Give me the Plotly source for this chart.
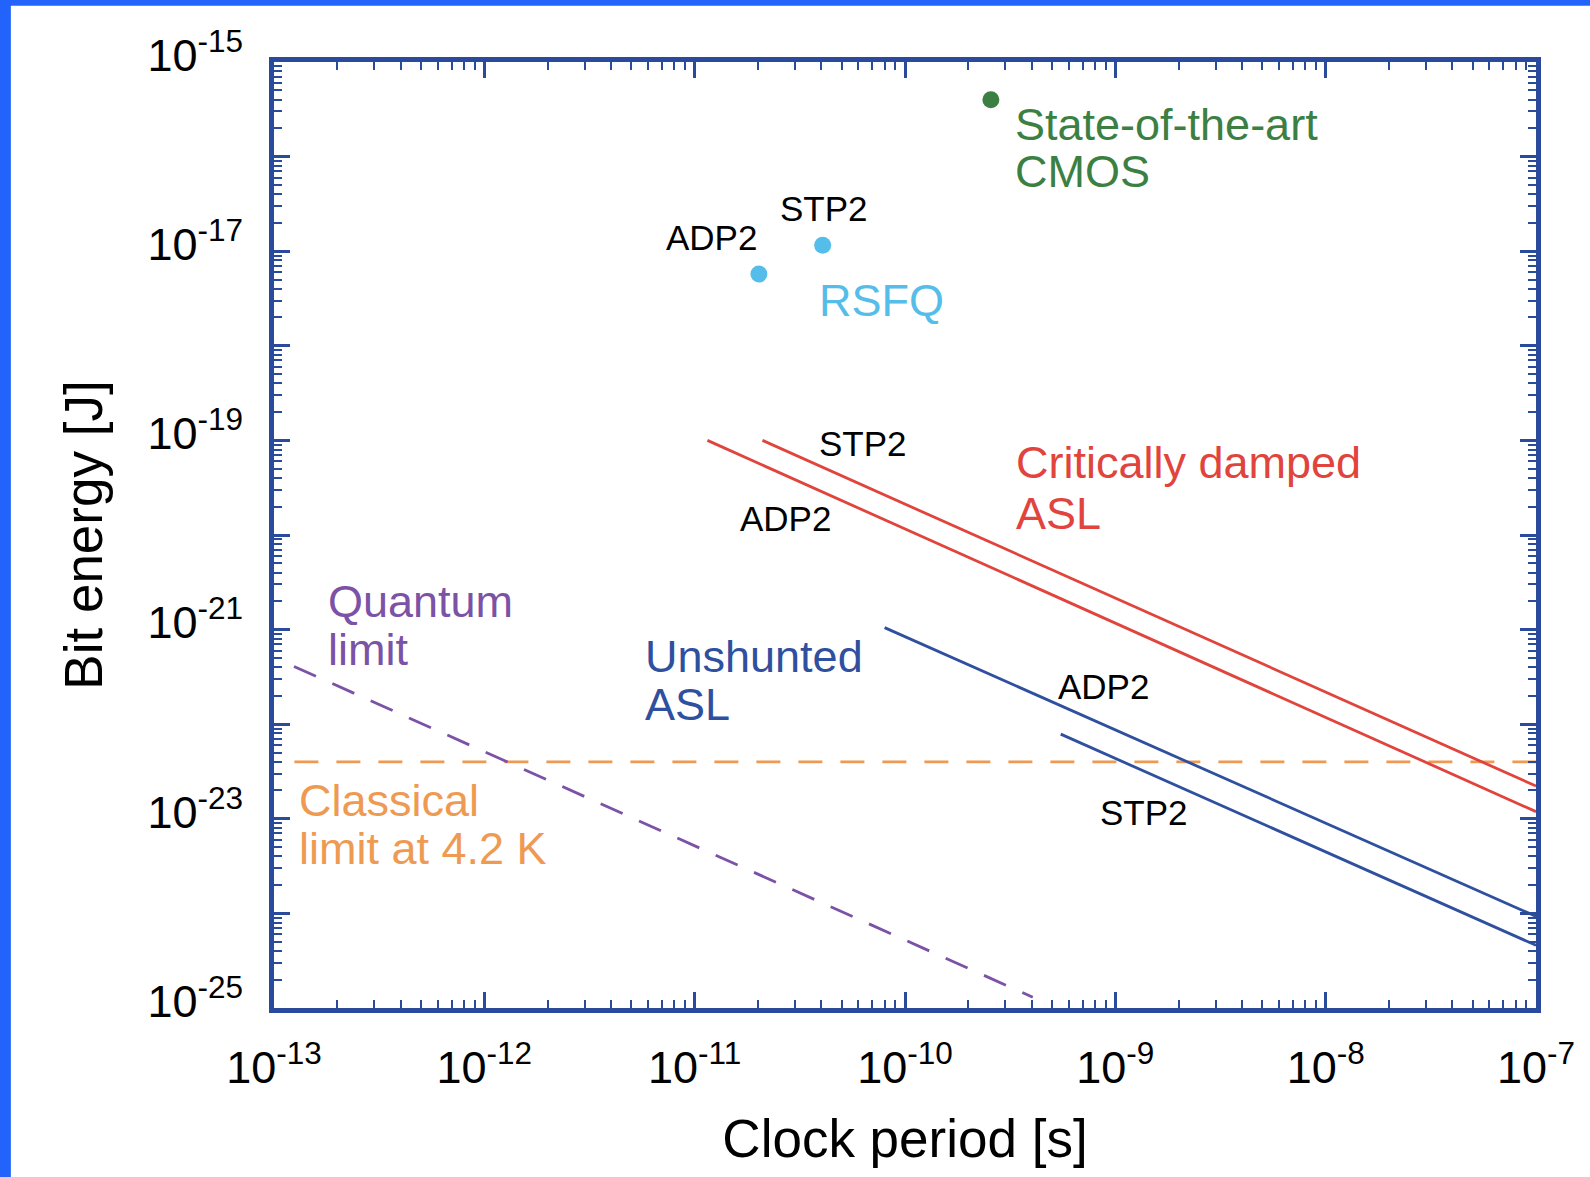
import plotly.graph_objects as go

# ---------------- data ----------------
# Critically damped ASL lines (clock period [s], bit energy [J])
cd_adp2_t = [1.15e-11, 1.0e-7]
cd_adp2_e = [1.0e-19, 1.19e-23]
cd_stp2_t = [2.1e-11, 1.0e-7]
cd_stp2_e = [1.0e-19, 2.22e-23]

# Unshunted ASL lines
un_adp2_t = [8.0e-11, 1.0e-7]
un_adp2_e = [1.05e-21, 9.3e-25]
un_stp2_t = [5.5e-10, 1.0e-7]
un_stp2_e = [7.85e-23, 4.6e-25]

# Limits
quantum_t = [1.245e-13, 4.05e-10]
quantum_e = [4.08e-22, 1.3e-25]
classical_t = [1.25e-13, 1.0e-7]
classical_e = [4.0e-23, 4.0e-23]

# Points
rsfq_names = ["ADP2", "STP2"]
rsfq_t = [2.02e-11, 4.06e-11]
rsfq_e = [5.73e-18, 1.156e-17]
cmos_t = [2.56e-10]
cmos_e = [3.98e-16]

# Axis ticks
x_exps = [-13, -12, -11, -10, -9, -8, -7]
y_exps = [-25, -24, -23, -22, -21, -20, -19, -18, -17, -16, -15]
y_label_exps = [-25, -23, -21, -19, -17, -15]

# ---------------- style ----------------
FONT = "Liberation Sans, Arial, Helvetica, sans-serif"
FRAME = "#2a4b9b"
RED = "#e0443c"
BLUE = "#2f4f9f"
ORANGE = "#ee9a52"
PURPLE = "#7b52a6"
GREEN = "#3c7f43"
LIGHTBLUE = "#55bde9"

fig = go.Figure()

def line(t, e, color, dash=None):
    fig.add_trace(go.Scatter(x=t, y=e, mode="lines",
                             line=dict(color=color, width=2.8, dash=dash),
                             showlegend=False, hoverinfo="skip"))

line(classical_t, classical_e, ORANGE, "24px,18px")
line(quantum_t, quantum_e, PURPLE, "24px,18px")
line(cd_adp2_t, cd_adp2_e, RED)
line(cd_stp2_t, cd_stp2_e, RED)
line(un_adp2_t, un_adp2_e, BLUE)
line(un_stp2_t, un_stp2_e, BLUE)

fig.add_trace(go.Scatter(x=rsfq_t, y=rsfq_e, mode="markers",
                         marker=dict(color=LIGHTBLUE, size=17),
                         showlegend=False, text=rsfq_names))
fig.add_trace(go.Scatter(x=cmos_t, y=cmos_e, mode="markers",
                         marker=dict(color=GREEN, size=17),
                         showlegend=False))

# ---------------- annotations ----------------
def label(x, y, text, color, size, anchor="left"):
    fig.add_annotation(x=x, y=y, xref="x", yref="y", text=text, showarrow=False,
                       xanchor=anchor, yanchor="middle",
                       font=dict(family=FONT, size=size, color=color))

BIG = 45
SMALL = 35
label(-9.487, -15.66, "State-of-the-art", GREEN, BIG)
label(-9.487, -16.16, "CMOS", GREEN, BIG)
label(-10.386, -16.547, "STP2", "black", SMALL, "center")
label(-10.921, -16.853, "ADP2", "black", SMALL, "center")
label(-10.112, -17.516, "RSFQ", LIGHTBLUE, BIG, "center")
label(-10.202, -19.032, "STP2", "black", SMALL, "center")
label(-10.566, -19.821, "ADP2", "black", SMALL, "center")
label(-9.482, -19.232, "Critically damped", RED, BIG)
label(-9.482, -19.768, "ASL", RED, BIG)
label(-12.754, -20.705, "Quantum", PURPLE, BIG)
label(-12.754, -21.211, "limit", PURPLE, BIG)
label(-11.248, -21.284, "Unshunted", BLUE, BIG)
label(-11.248, -21.789, "ASL", BLUE, BIG)
label(-9.056, -21.6, "ADP2", "black", SMALL, "center")
label(-8.866, -22.937, "STP2", "black", SMALL, "center")
label(-12.891, -22.811, "Classical", ORANGE, BIG)
label(-12.891, -23.316, "limit at 4.2 K", ORANGE, BIG)

# ---------------- axes ----------------
def minor_vals(exps):
    return [k * 10.0 ** n for n in exps[:-1] for k in range(2, 10)]

x_ticks = [10.0 ** n for n in x_exps]
x_text = [f"10<sup>{n}</sup>" for n in x_exps]
y_ticks = [10.0 ** n for n in y_exps]
y_text = [f"10<sup>{n}</sup>" if n in y_label_exps else "" for n in y_exps]

common = dict(type="log", showline=True, linewidth=5, linecolor=FRAME,
              mirror="allticks", ticks="inside", ticklen=16, tickwidth=2.5,
              tickcolor=FRAME, showgrid=False, zeroline=False,
              tickfont=dict(family=FONT, size=45, color="black"))

fig.update_xaxes(range=[-13, -7], tickmode="array", tickvals=x_ticks, ticktext=x_text,
                 minor=dict(tickmode="array", tickvals=minor_vals(x_exps), ticks="inside",
                            ticklen=8, tickwidth=2, tickcolor=FRAME, showgrid=False),
                 title=dict(text="Clock period [s]", standoff=29,
                            font=dict(family=FONT, size=53, color="black")),
                 ticklabelstandoff=16, **common)
fig.update_yaxes(range=[-25, -15], tickmode="array", tickvals=y_ticks, ticktext=y_text,
                 minor=dict(tickmode="array", tickvals=minor_vals(y_exps), ticks="inside",
                            ticklen=8, tickwidth=2, tickcolor=FRAME, showgrid=False),
                 title=dict(text="Bit energy [J]", standoff=29,
                            font=dict(family=FONT, size=53, color="black")),
                 ticklabelstandoff=17, ticklabelshift=-7, **common)

# slide border (decoration)
BORDER = "#2264fb"
fig.add_shape(type="rect", xref="paper", yref="paper", x0=-0.3, x1=-0.2085, y0=-0.3, y1=1.2,
              fillcolor=BORDER, line=dict(width=0), layer="below")
fig.add_shape(type="rect", xref="paper", yref="paper", x0=-0.3, x1=1.2, y0=1.0595, y1=1.2,
              fillcolor=BORDER, line=dict(width=0), layer="below")

fig.update_layout(width=1590, height=1177,
                  margin=dict(l=274, r=54, t=62, b=169, autoexpand=False),
                  paper_bgcolor="white", plot_bgcolor="white",
                  font=dict(family=FONT, color="black"),
                  showlegend=False)

fig.write_html("out.html", config={"displayModeBar": False},
               post_script="document.body.style.margin='0';document.body.style.overflow='hidden';")
